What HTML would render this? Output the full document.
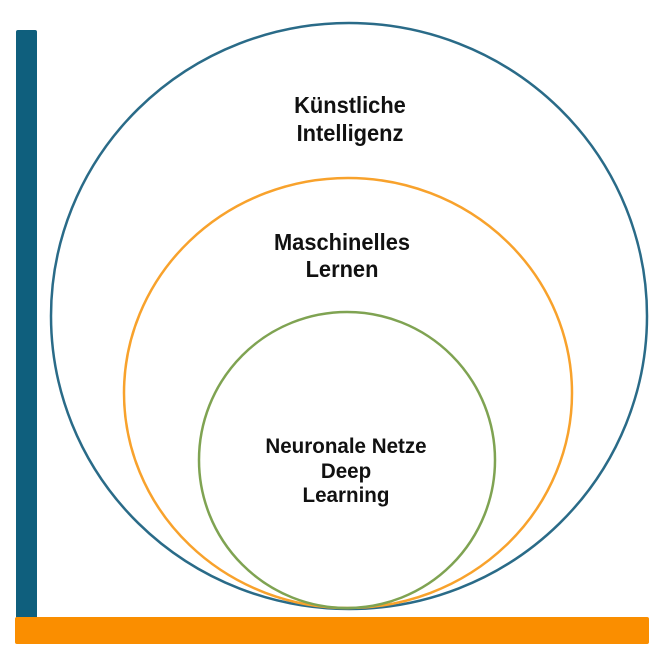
<!DOCTYPE html>
<html><head><meta charset="utf-8"><style>
html,body{margin:0;padding:0;background:#fff;}
body{width:667px;height:661px;position:relative;overflow:hidden;}
.t{position:absolute;font-family:"Liberation Sans",sans-serif;font-weight:bold;color:#111;text-align:center;font-size:23px;line-height:28px;transform:scaleX(0.95);width:240px;}
</style></head><body>
<svg width="667" height="661" style="position:absolute;left:0;top:0">
<rect x="16" y="30" width="21" height="592" rx="2" fill="#0f5f7d"/>
<ellipse cx="349" cy="316" rx="298" ry="293" fill="none" stroke="#2a6b88" stroke-width="2.5"/>
<ellipse cx="348" cy="393" rx="224" ry="215" fill="none" stroke="#f8a22c" stroke-width="2.5"/>
<circle cx="347" cy="460" r="148" fill="none" stroke="#7fa352" stroke-width="2.5"/>
<rect x="15" y="617" width="634" height="27" rx="2" fill="#fa8e00"/>
</svg>
<div class="t" style="left:230px;top:91px">Künstliche<br>Intelligenz</div>
<div class="t" style="left:222px;top:229px;line-height:27px">Maschinelles<br>Lernen</div>
<div class="t" style="left:226px;top:435px;line-height:24.5px;font-size:21px;transform:scaleX(0.98)">Neuronale Netze<br>Deep<br>Learning</div>
</body></html>
